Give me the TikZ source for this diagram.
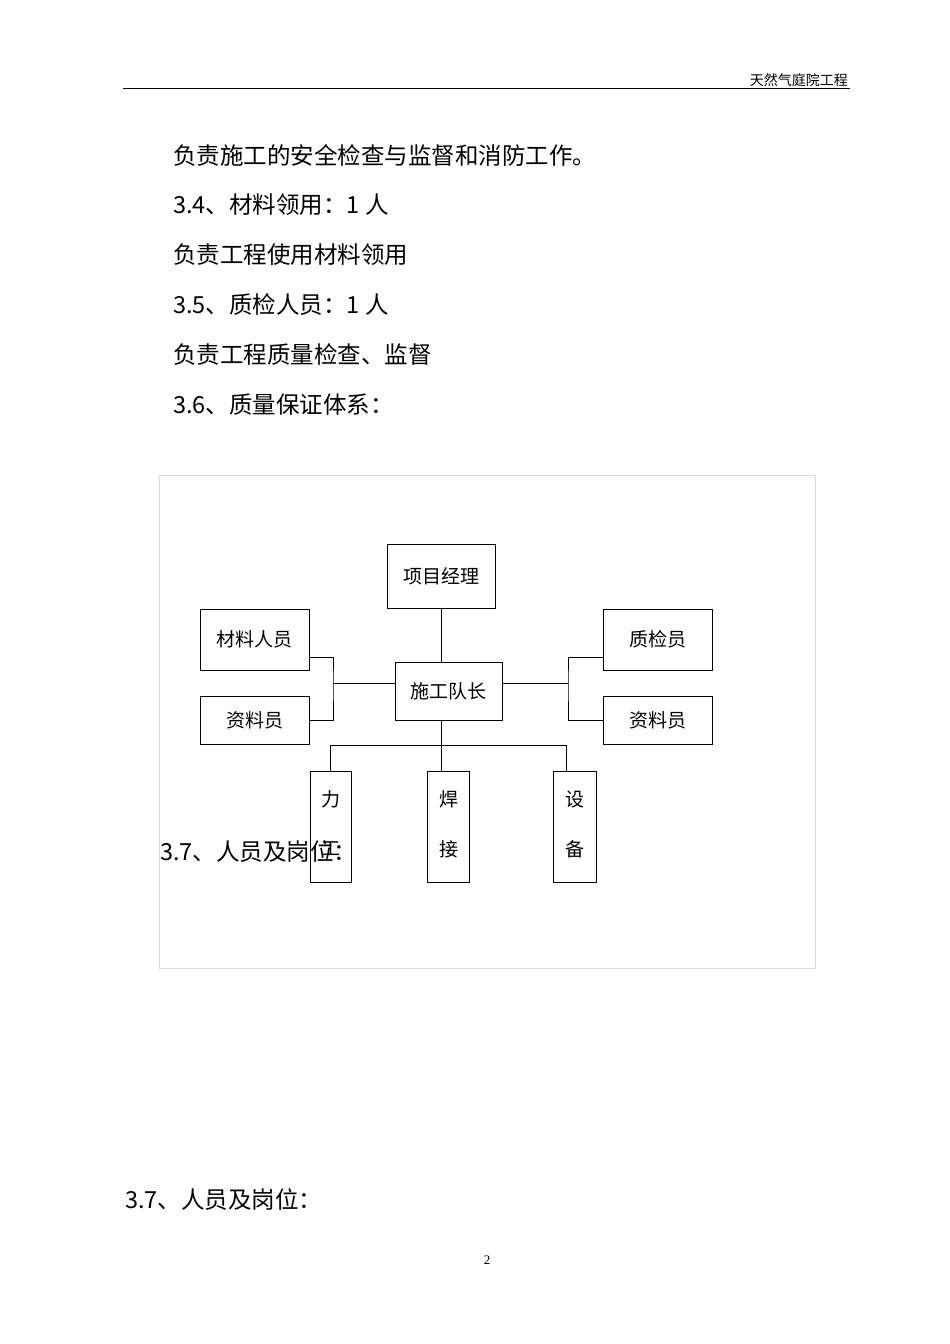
\documentclass[tikz,border=0pt]{standalone}
\usepackage{fontspec}
\setmainfont{Liberation Serif}
\newfontfamily\cjk{Noto Sans CJK SC}
\begin{document}
\begin{tikzpicture}[x=1pt,y=-1pt,
  bx/.style={draw,line width=1pt,inner sep=0,font=\cjk\fontsize{19}{22}\selectfont},
  vch/.style={inner sep=0,font=\cjk\fontsize{19}{22}\selectfont},
  body/.style={anchor=west,inner sep=0,font=\cjk\fontsize{23.5}{26}\selectfont},
  ln/.style={line width=0.8pt}]
\useasboundingbox[fill=white] (0,0) rectangle (950,1344);
\node[anchor=south east,inner sep=0,font=\cjk\fontsize{14}{16}\selectfont] (hdr) at (848,87) {天然气庭院工程};
\draw[line width=1pt] (123,88) coordinate (h1) -- (850,88) coordinate (h2);
\node[body] (t1) at (173,155) {负责施工的安全检查与监督和消防工作。};
\node[body] (t2) at (173,205) {3.4、材料领用：1 人};
\node[body] (t3) at (173,255) {负责工程使用材料领用};
\node[body] (t4) at (173,305) {3.5、质检人员：1 人};
\node[body] (t5) at (173,355) {负责工程质量检查、监督};
\node[body] (t6) at (173,405) {3.6、质量保证体系：};
\draw[gray!30] (159,475) rectangle (815,968);
\node[bx,minimum width=108,minimum height=64] (pm) at (441,576) {项目经理};
\node[bx,minimum width=109,minimum height=61] (cl) at (254.5,639.5) {材料人员};
\node[bx,minimum width=109,minimum height=48] (zl) at (254.5,720) {资料员};
\node[bx,minimum width=107,minimum height=58] (dz) at (448.5,691) {施工队长};
\node[bx,minimum width=109,minimum height=61] (zj) at (657.5,639.5) {质检员};
\node[bx,minimum width=109,minimum height=48] (zr) at (657.5,720) {资料员};
\node[bx,minimum width=41,minimum height=111] (lg) at (330.5,826.5) {};
\node[bx,minimum width=42,minimum height=111] (hj) at (448,826.5) {};
\node[bx,minimum width=43,minimum height=111] (sb) at (574.5,826.5) {};
\node[vch] (lg1) at (331,799) {力};
\node[vch] (lg2) at (331,849) {工};
\node[vch] (hj1) at (449,799) {焊};
\node[vch] (hj2) at (449,849) {接};
\node[vch] (sb1) at (575,799) {设};
\node[vch] (sb2) at (575,849) {备};
\draw[ln] (pm.south) -- (pm.south |- dz.north);
\coordinate (lb) at (333,683);
\draw[ln] (cl.east |- 0,657) -| (lb) |- (zl.east);
\draw[ln] (lb) -- (dz.west |- lb);
\coordinate (rb) at (568,683);
\draw[ln] (zj.west |- 0,657) -| (rb) |- (zr.west);
\draw[ln] (rb) -- (dz.east |- rb);
\draw[ln] (pm.south |- dz.south) -- (pm.south |- hj.north);
\draw[ln] (330,771) -- (330,745) -- (566,745) -- (566,771);
\node[body] (t7) at (160,852) {3.7、人员及岗位：};
\node[body] (t8) at (125,1200) {3.7、人员及岗位：};
\node[inner sep=0,font=\fontsize{13}{15}\selectfont] (pg) at (487,1260) {2};
\end{tikzpicture}
\end{document}
